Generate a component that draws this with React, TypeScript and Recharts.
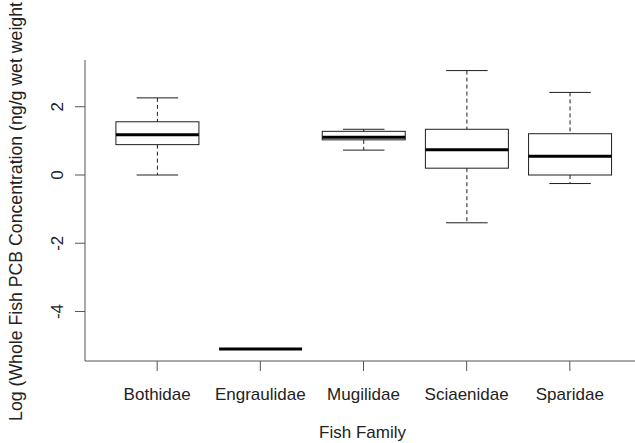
import React from 'react';
import { ComposedChart, Bar, XAxis, YAxis, Label } from 'recharts';

// Box plot statistics (log ng/g wet weight)
const families = ['Bothidae', 'Engraulidae', 'Mugilidae', 'Sciaenidae', 'Sparidae'];
const mins = [0.0, -5.1, 0.73, -1.4, -0.25];
const q1s = [0.89, -5.1, 1.03, 0.2, 0.0];
const medians = [1.18, -5.1, 1.11, 0.74, 0.55];
const q3s = [1.56, -5.1, 1.28, 1.34, 1.21];
const maxs = [2.26, -5.1, 1.34, 3.06, 2.42];

const yTicks = [-4, -2, 0, 2];
const yDomain = [-5.45, 3.37];

const FONT = '"Liberation Sans", Arial, sans-serif';
const AXIS = '#555';
const INK = '#1e1e1e';

const data = families.map((family, i) => ({
    family,
    min: mins[i],
    q1: q1s[i],
    median: medians[i],
    q3: q3s[i],
    max: maxs[i],
}));

// bar covers [min, max]; the inner stats are placed on the same linear scale
const BoxShape = (props: any) => {
    const { x, y, width, height, payload } = props;
    const { min, q1, median, q3, max } = payload;
    const top = Math.min(y, y + height);
    const bottom = Math.max(y, y + height);
    const span = max - min;
    const toY = (v: number) => (span > 0 ? top + ((max - v) / span) * (bottom - top) : top);
    const cx = x + width / 2;
    const cap = width / 4;
    return (
        <g>
            <line x1={cx} x2={cx} y1={toY(max)} y2={toY(q3)} stroke={INK} strokeDasharray="4 3" />
            <line x1={cx} x2={cx} y1={toY(q1)} y2={toY(min)} stroke={INK} strokeDasharray="4 3" />
            <line x1={cx - cap} x2={cx + cap} y1={toY(max)} y2={toY(max)} stroke={INK} />
            <line x1={cx - cap} x2={cx + cap} y1={toY(min)} y2={toY(min)} stroke={INK} />
            <rect
                x={x}
                y={toY(q3)}
                width={width}
                height={toY(q1) - toY(q3)}
                fill="none"
                stroke={INK}
            />
            <line x1={x} x2={x + width} y1={toY(median)} y2={toY(median)} stroke="#000" strokeWidth={3} />
        </g>
    );
};

const YTick = (props: any) => {
    const { x, y, payload } = props;
    return (
        <text
            x={x}
            y={y}
            transform={`rotate(-90 ${x} ${y})`}
            textAnchor="middle"
            fontSize={17}
            fontFamily={FONT}
            fill="#222"
        >
            {payload.value}
        </text>
    );
};

const yTitle = (props: any) => {
    const { viewBox } = props;
    const tx = viewBox.x + 22;
    const ty = viewBox.y + viewBox.height / 2 + 1;
    return (
        <text
            x={tx}
            y={ty}
            transform={`rotate(-90 ${tx} ${ty})`}
            textAnchor="middle"
            fontSize={17.7}
            fontFamily={FONT}
            fill="#222"
        >
            Log (Whole Fish PCB Concentration (ng/g wet weight
        </text>
    );
};

const xTitle = (props: any) => {
    const { viewBox } = props;
    return (
        <text
            x={viewBox.x + viewBox.width / 2 - 1}
            y={viewBox.y + 77}
            textAnchor="middle"
            fontSize={17}
            fontFamily={FONT}
            fill="#222"
        >
            Fish Family
        </text>
    );
};

const PCBBoxPlot: React.FC = () => {
    const pad = { left: 20.6, right: 20.6 };
    return (
        <div
            style={{
                position: 'absolute',
                left: 0,
                top: 0,
                width: 635,
                height: 443,
                overflow: 'hidden',
                background: '#fff',
            }}
        >
            <ComposedChart
                width={660}
                height={443}
                data={data}
                margin={{ top: 60, right: 18, bottom: 0, left: 0 }}
                barCategoryGap="10%"
            >
                <XAxis
                    dataKey="family"
                    type="category"
                    height={82}
                    padding={pad}
                    interval={0}
                    tickSize={10}
                    tickMargin={17}
                    axisLine={{ stroke: AXIS }}
                    tickLine={{ stroke: AXIS }}
                    tick={{ fontSize: 17, fill: '#222', fontFamily: FONT }}
                >
                    <Label content={xTitle} />
                </XAxis>
                <XAxis
                    xAxisId="top"
                    orientation="top"
                    dataKey="family"
                    type="category"
                    height={0}
                    padding={pad}
                    tick={false}
                    tickLine={false}
                    axisLine={{ stroke: AXIS }}
                />
                <YAxis
                    type="number"
                    width={85}
                    domain={yDomain}
                    ticks={yTicks}
                    allowDataOverflow
                    interval={0}
                    tickSize={10}
                    tickMargin={12}
                    axisLine={{ stroke: AXIS }}
                    tickLine={{ stroke: AXIS }}
                    tick={<YTick />}
                >
                    <Label content={yTitle} />
                </YAxis>
                <Bar
                    dataKey={(d: any) => [d.min, d.max]}
                    shape={<BoxShape />}
                    isAnimationActive={false}
                />
            </ComposedChart>
        </div>
    );
};

export default function App() {
    return <PCBBoxPlot />;
}
